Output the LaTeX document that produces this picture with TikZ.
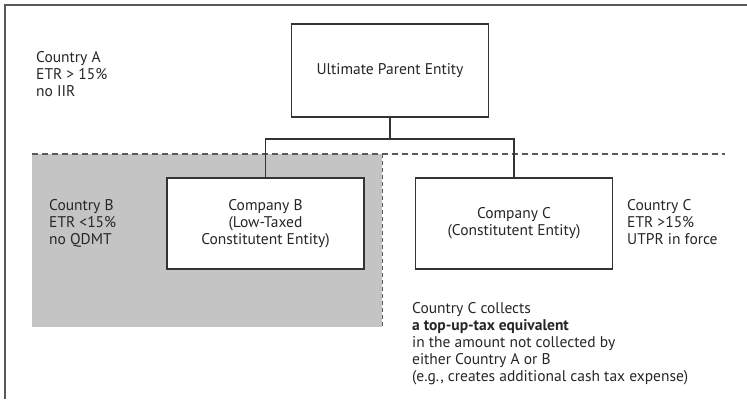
\documentclass[tikz,border=0pt]{standalone}
\usepackage{fontspec}
\setmainfont{PT Sans}
\begin{document}
\begin{tikzpicture}[x=1pt,y=-1pt,
  txt/.style={font=\fontsize{15.5}{17}\selectfont, text=black!85, inner sep=0pt},
  entity/.style={draw=black!80, line width=1.3pt, fill=white, minimum width=197pt, inner sep=0pt, align=center, txt},
  frameline/.style={draw=black!65, line width=1.4pt},
  border/.style={draw=black!65, line width=1.3pt, dash pattern=on 6pt off 4pt},
  conn/.style={draw=black!80, line width=1.3pt}]
\useasboundingbox (0,0) rectangle (747,399);
% frame
\draw[frameline] (5,399) -- (5,5) -- (747,5);
% shaded Country B region
\fill[fill=black!23] (32,154) rectangle (382,327);
\draw[border] (32,154) -- (725,154);
\draw[border, line width=1pt, dash pattern=on 4pt off 3pt] (382,154) -- (382,327);
% entities
\node[entity, minimum height=93pt] (upe) at (390,70.5) {Ultimate Parent Entity};
\node[entity, minimum height=91pt] (cb) at (265.5,223.5) {\raisebox{-1.5pt}{\parbox{190pt}{\centering Company B\\(Low-Taxed\\Constitutent Entity)}}};
\node[entity, minimum height=91pt] (cc) at (514,223.5) {\raisebox{-1.5pt}{\parbox{190pt}{\centering Company C\\(Constitutent Entity)}}};
\coordinate (j) at (390,139);
\draw[conn] (upe.south) -- (j);
\draw[conn] (cb.north) |- (j) -| (cc.north);
% labels
\node[txt, anchor=north west, align=left] (ca) at (36,51) {Country A\\ETR > 15\%\\no IIR};
\node[txt, anchor=north west, align=left] (cnb) at (49,199.5) {Country B\\ETR <15\%\\no QDMT};
\node[txt, anchor=north west, align=left] (cnc) at (627,199.5) {Country C\\ETR >15\%\\UTPR in force};
\node[txt, anchor=north west, align=left] (note) at (412,302.5) {Country C collects\\\textbf{a top-up-tax equivalent}\\in the amount not collected by\\either Country A or B\\(e.g., creates additional cash tax expense)};
\end{tikzpicture}
\end{document}
